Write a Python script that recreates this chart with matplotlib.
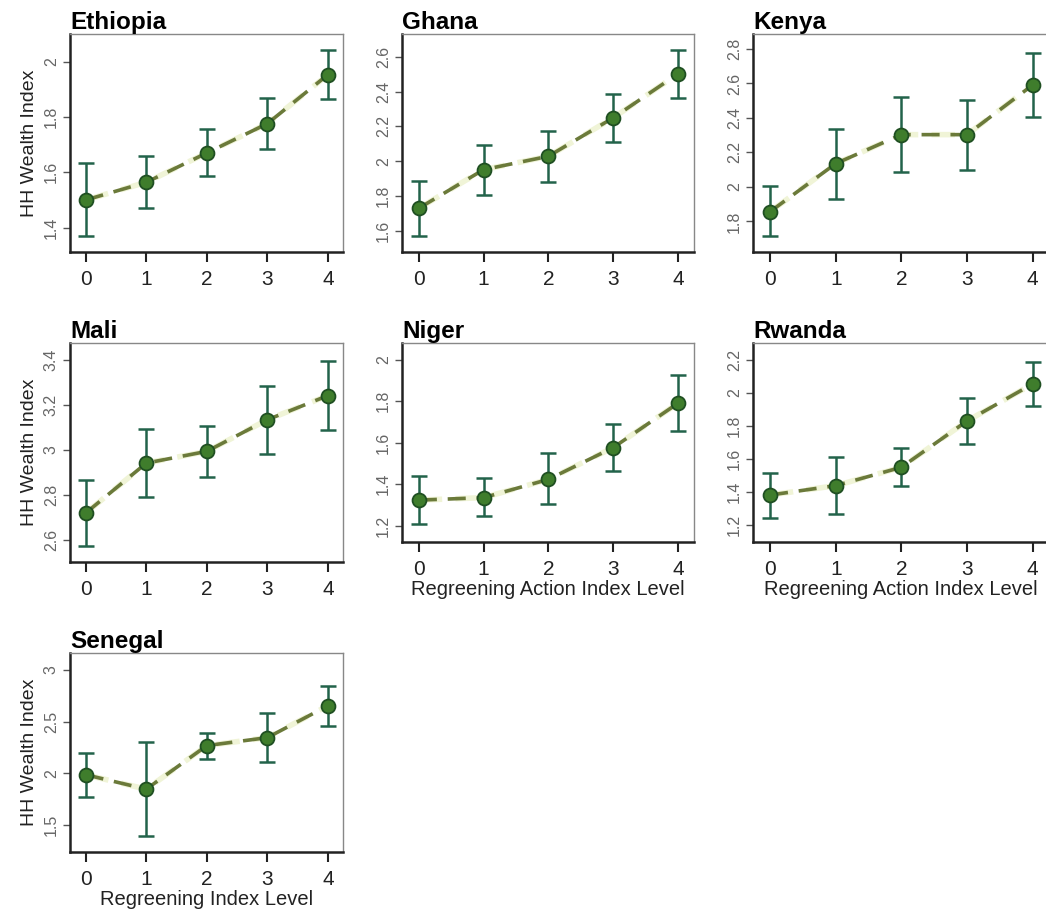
import matplotlib
matplotlib.use("Agg")
import matplotlib.pyplot as plt

plt.rcParams['font.family'] = ['Liberation Sans', 'DejaVu Sans']

levels = [0, 1, 2, 3, 4]

countries = ["Ethiopia", "Ghana", "Kenya", "Mali", "Niger", "Rwanda", "Senegal"]

ethiopia_mean = [1.50, 1.564, 1.670, 1.776, 1.953]
ethiopia_lo = [1.369, 1.470, 1.587, 1.683, 1.865]
ethiopia_hi = [1.634, 1.660, 1.758, 1.867, 2.043]

ghana_mean = [1.729, 1.951, 2.028, 2.249, 2.502]
ghana_lo = [1.567, 1.803, 1.878, 2.111, 2.362]
ghana_hi = [1.884, 2.095, 2.175, 2.387, 2.642]

kenya_mean = [1.856, 2.135, 2.303, 2.303, 2.591]
kenya_lo = [1.713, 1.932, 2.084, 2.096, 2.407]
kenya_hi = [2.007, 2.338, 2.523, 2.502, 2.775]

mali_mean = [2.721, 2.942, 2.994, 3.134, 3.241]
mali_lo = [2.573, 2.792, 2.882, 2.984, 3.089]
mali_hi = [2.869, 3.093, 3.108, 3.285, 3.393]

niger_mean = [1.323, 1.335, 1.423, 1.576, 1.790]
niger_lo = [1.206, 1.247, 1.302, 1.463, 1.655]
niger_hi = [1.440, 1.431, 1.548, 1.692, 1.926]

rwanda_mean = [1.381, 1.438, 1.549, 1.829, 2.053]
rwanda_lo = [1.242, 1.267, 1.434, 1.692, 1.920]
rwanda_hi = [1.515, 1.613, 1.664, 1.966, 2.184]

senegal_mean = [1.987, 1.848, 2.268, 2.345, 2.652]
senegal_lo = [1.774, 1.397, 2.139, 2.110, 2.458]
senegal_hi = [2.200, 2.300, 2.394, 2.584, 2.845]

yticks = {
    "Ethiopia": [1.4, 1.6, 1.8, 2.0],
    "Ghana": [1.6, 1.8, 2.0, 2.2, 2.4, 2.6],
    "Kenya": [1.8, 2.0, 2.2, 2.4, 2.6, 2.8],
    "Mali": [2.6, 2.8, 3.0, 3.2, 3.4],
    "Niger": [1.2, 1.4, 1.6, 1.8, 2.0],
    "Rwanda": [1.2, 1.4, 1.6, 1.8, 2.0, 2.2],
    "Senegal": [1.5, 2.0, 2.5, 3.0],
}
ytick_labels = {
    "Ethiopia": ["1.4", "1.6", "1.8", "2"],
    "Ghana": ["1.6", "1.8", "2", "2.2", "2.4", "2.6"],
    "Kenya": ["1.8", "2", "2.2", "2.4", "2.6", "2.8"],
    "Mali": ["2.6", "2.8", "3", "3.2", "3.4"],
    "Niger": ["1.2", "1.4", "1.6", "1.8", "2"],
    "Rwanda": ["1.2", "1.4", "1.6", "1.8", "2", "2.2"],
    "Senegal": ["1.5", "2", "2.5", "3"],
}
ylims = {
    "Ethiopia": (1.312, 2.10),
    "Ghana": (1.477, 2.732),
    "Kenya": (1.622, 2.887),
    "Mali": (2.504, 3.474),
    "Niger": (1.121, 2.081),
    "Rwanda": (1.097, 2.301),
    "Senegal": (1.242, 3.161),
}
data = {
    "Ethiopia": (ethiopia_mean, ethiopia_lo, ethiopia_hi),
    "Ghana": (ghana_mean, ghana_lo, ghana_hi),
    "Kenya": (kenya_mean, kenya_lo, kenya_hi),
    "Mali": (mali_mean, mali_lo, mali_hi),
    "Niger": (niger_mean, niger_lo, niger_hi),
    "Rwanda": (rwanda_mean, rwanda_lo, rwanda_hi),
    "Senegal": (senegal_mean, senegal_lo, senegal_hi),
}
xlabels = {
    "Niger": "Regreening Action Index Level",
    "Rwanda": "Regreening Action Index Level",
    "Senegal": "Regreening Index Level",
}
ylabel_panels = ["Ethiopia", "Mali", "Senegal"]

W, H = 1046, 914
# pixel boxes: left, right, top, bottom
boxes = {
    "Ethiopia": (70, 343, 34, 252),
    "Ghana": (402, 694, 34, 252),
    "Kenya": (753, 1049, 34, 252),
    "Mali": (70, 343, 343, 562),
    "Niger": (402, 694, 343, 542),
    "Rwanda": (753, 1049, 343, 542),
    "Senegal": (70, 343, 653, 852),
}

fig = plt.figure(figsize=(W / 100, H / 100), dpi=100)

err_color = "#22634a"
mk_face = "#3f7d2c"
mk_edge = "#1f4f22"
line_color = "#6b7a3a"
halo_color = "#e6edbd"

for c in countries:
    l, r, t, b = boxes[c]
    ax = fig.add_axes([l / W, 1 - b / H, (r - l) / W, (b - t) / H])
    mean, lo, hi = data[c]
    yerr = [[m - a for m, a in zip(mean, lo)], [h - m for m, h in zip(mean, hi)]]
    ax.plot(levels, mean, color=halo_color, lw=4, alpha=0.6, zorder=1,
            ls=(0, (4.2, 2.4)))
    ax.plot(levels, mean, color=line_color, lw=2.6, ls=(0, (5, 3)), zorder=2)
    ax.errorbar(levels, mean, yerr=yerr, fmt='none', ecolor=err_color,
                elinewidth=1.8, capsize=5.5, capthick=1.8, zorder=3)
    ax.plot(levels, mean, 'o', ms=10, mfc=mk_face, mec=mk_edge, mew=1.3, zorder=4)

    ax.set_xlim(-0.26, 4.25)
    ax.set_ylim(*ylims[c])
    ax.set_xticks(levels)
    ax.set_xticklabels([str(v) for v in levels], fontsize=15, color="#222222")
    ax.set_yticks(yticks[c])
    ax.set_yticklabels(ytick_labels[c], fontsize=11.5, color="#666666",
                       rotation=90, va='center')
    ax.tick_params(axis='x', length=7, width=1.5, direction='out', pad=6, color="#222222")
    ax.tick_params(axis='y', length=5, width=1.0, direction='out', pad=3, color="#555555")
    for s in ['left', 'bottom']:
        ax.spines[s].set_linewidth(1.8)
        ax.spines[s].set_color("#222222")
    for s in ['top', 'right']:
        ax.spines[s].set_linewidth(1.0)
        ax.spines[s].set_color("#888888")
    ax.set_title(c, loc='left', fontsize=17.5, fontweight='bold', pad=3, x=0.0)
    if c in xlabels:
        ax.set_xlabel(xlabels[c], fontsize=14.5, color="#222222", labelpad=1)
    if c in ylabel_panels:
        ax.set_ylabel("HH Wealth Index", fontsize=14, color="#222222", labelpad=4)

fig.savefig("out.png", dpi=100)
